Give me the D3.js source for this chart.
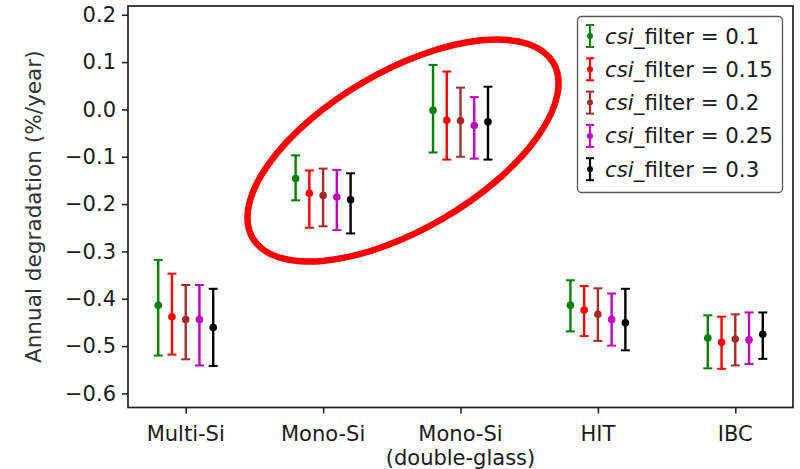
<!DOCTYPE html>
<html>
<head>
<meta charset="utf-8">
<script src="https://cdn.jsdelivr.net/npm/d3@7"></script>
<style>
  html, body { margin: 0; padding: 0; background: #fff; }
  svg { display: block; font-family: "DejaVu Sans", sans-serif; }
</style>
</head>
<body>
<svg id="chart" width="800" height="469"></svg>
<script>
// ---- data ----
const categories = ["Multi-Si", "Mono-Si", "Mono-Si\n(double-glass)", "HIT", "IBC"];
const filters = ["0.1", "0.15", "0.2", "0.25", "0.3"];
const seriesColors = ["#008000", "#ff0000", "#a52a2a", "#bf00bf", "#000000"];
const offsets = [-0.2, -0.1, 0, 0.1, 0.2];
// mean values per filter (rows) per category (columns)
const means = [
  [-0.414, -0.146, -0.002, -0.414, -0.483],
  [-0.438, -0.177, -0.023, -0.424, -0.492],
  [-0.444, -0.182, -0.024, -0.433, -0.485],
  [-0.444, -0.185, -0.034, -0.444, -0.487],
  [-0.461, -0.191, -0.026, -0.451, -0.475]
];
const upper = [
  [-0.318, -0.097, 0.094, -0.361, -0.435],
  [-0.347, -0.129, 0.080, -0.373, -0.438],
  [-0.371, -0.125, 0.046, -0.378, -0.433],
  [-0.371, -0.128, 0.026, -0.389, -0.429],
  [-0.379, -0.135, 0.048, -0.379, -0.429]
];
const lower = [
  [-0.520, -0.192, -0.091, -0.469, -0.547],
  [-0.518, -0.250, -0.106, -0.479, -0.548],
  [-0.528, -0.247, -0.100, -0.489, -0.541],
  [-0.541, -0.255, -0.104, -0.499, -0.538],
  [-0.542, -0.262, -0.106, -0.509, -0.527]
];
const yTicks = [0.2, 0.1, 0.0, -0.1, -0.2, -0.3, -0.4, -0.5, -0.6];
const yLabel = "Annual degradation (%/year)";

// ---- layout ----
const svg = d3.select("#chart");
const L = 128, R = 793, T = 6, B = 407.5;
const x = d3.scaleLinear().domain([-0.42, 4.42]).range([L, R]);
const y = d3.scaleLinear().domain([-0.6298, 0.2185]).range([B, T]);
const FS = 21;
const textCol = "#1a1a1a";

// error bars
const g = svg.append("g");
filters.forEach((f, si) => {
  const col = seriesColors[si];
  categories.forEach((c, ci) => {
    const cx = x(ci + offsets[si]);
    g.append("line").attr("x1", cx).attr("x2", cx)
      .attr("y1", y(upper[si][ci])).attr("y2", y(lower[si][ci]))
      .attr("stroke", col).attr("stroke-width", 2.4);
    [upper[si][ci], lower[si][ci]].forEach(v => {
      g.append("line").attr("x1", cx - 4.5).attr("x2", cx + 4.5)
        .attr("y1", y(v)).attr("y2", y(v))
        .attr("stroke", col).attr("stroke-width", 2);
    });
    g.append("circle").attr("cx", cx).attr("cy", y(means[si][ci])).attr("r", 3.8).attr("fill", col);
  });
});

// frame
svg.append("rect").attr("x", L).attr("y", T).attr("width", R - L).attr("height", B - T)
  .attr("fill", "none").attr("stroke", "#222").attr("stroke-width", 1.7);

// y axis
const yAxis = d3.axisLeft(y).tickValues(yTicks).tickSize(6).tickPadding(6)
  .tickFormat(d => d3.format(".1f")(d).replace("-", "\u2212"));
const ya = svg.append("g").attr("transform", `translate(${L},0)`).call(yAxis);
ya.select(".domain").remove();
ya.selectAll("line").attr("stroke", "#222").attr("stroke-width", 1.6);
ya.selectAll("text").attr("font-size", FS).attr("fill", textCol).attr("font-family", "DejaVu Sans");

// x axis
const xAxis = d3.axisBottom(x).tickValues(d3.range(categories.length)).tickSize(6).tickFormat("");
const xa = svg.append("g").attr("transform", `translate(0,${B})`).call(xAxis);
xa.select(".domain").remove();
xa.selectAll("line").attr("stroke", "#222").attr("stroke-width", 1.6);
categories.forEach((c, i) => {
  const lines = c.split("\n");
  const t = svg.append("text").attr("x", x(i)).attr("y", 441)
    .attr("text-anchor", "middle").attr("font-size", FS).attr("fill", textCol);
  lines.forEach((ln, k) => {
    t.append("tspan").attr("x", x(i)).attr("dy", k === 0 ? 0 : 23.5).text(ln);
  });
});

// y label
svg.append("text")
  .attr("transform", `translate(41,${(T + B) / 2}) rotate(-90)`)
  .attr("text-anchor", "middle").attr("font-size", 21.6).attr("fill", "#333")
  .text(yLabel);

// legend
const lg = svg.append("g");
lg.append("rect").attr("x", 577.5).attr("y", 16.5).attr("width", 205).attr("height", 176)
  .attr("rx", 4).attr("fill", "#fff").attr("fill-opacity", 0.8)
  .attr("stroke", "#555").attr("stroke-width", 1.3);
filters.forEach((f, si) => {
  const cy = 36 + si * 33.3;
  const col = seriesColors[si];
  lg.append("line").attr("x1", 590).attr("x2", 590).attr("y1", cy - 11).attr("y2", cy + 11)
    .attr("stroke", col).attr("stroke-width", 2.2);
  [cy - 11, cy + 11].forEach(v => lg.append("line").attr("x1", 586).attr("x2", 594)
    .attr("y1", v).attr("y2", v).attr("stroke", col).attr("stroke-width", 2));
  lg.append("circle").attr("cx", 590).attr("cy", cy).attr("r", 3).attr("fill", col);
  const t = lg.append("text").attr("x", 605).attr("y", cy + 7.5).attr("font-size", 21.3).attr("fill", textCol);
  t.append("tspan").attr("font-style", "italic").text("csi");
  t.append("tspan").text("_filter = " + f);
});

// red ellipse annotation
svg.append("ellipse")
  .attr("cx", 0).attr("cy", 0).attr("rx", 174).attr("ry", 79)
  .attr("transform", "translate(403,150.5) rotate(-30.2)")
  .attr("fill", "none").attr("stroke", "#ff0000").attr("stroke-width", 6.5);
</script>
</body>
</html>
